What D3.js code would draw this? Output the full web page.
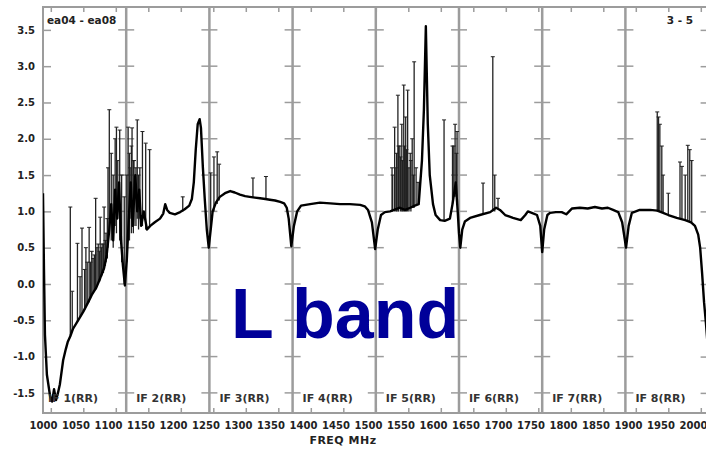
<!DOCTYPE html>
<html>
<head>
<meta charset="utf-8">
<script src="https://cdn.jsdelivr.net/npm/d3@7"></script>
<style>
  body { margin: 0; background: #fff; }
  text { font-family: "DejaVu Sans", sans-serif; }
</style>
</head>
<body>
<div id="chart"></div>
<script>
// Spectrum: frequency in MHz and amplitude
var freq = [
  1000, 1001.5, 1003, 1006, 1011, 1014, 1017, 1020, 1023, 1026, 1031, 1035, 1038, 1042, 1046, 1054,
  1062, 1069, 1075, 1082, 1088, 1094, 1098, 1102, 1105, 1108, 1111, 1114, 1117, 1120, 1123, 1126,
  1129, 1132, 1135, 1138, 1142, 1145, 1148, 1151, 1155, 1160, 1165, 1172, 1180, 1185, 1188, 1191,
  1195, 1203, 1211, 1218, 1225, 1229, 1232, 1235, 1238, 1241, 1243, 1246, 1249, 1252, 1255, 1258,
  1261, 1266, 1272, 1280, 1288, 1295, 1303, 1311, 1318, 1326, 1334, 1342, 1349, 1357, 1365, 1371,
  1375, 1378, 1382, 1386, 1391, 1397, 1411, 1426, 1442, 1457, 1472, 1488, 1495, 1500, 1506, 1511,
  1515, 1520, 1526, 1534, 1540, 1549, 1557, 1565, 1572, 1578, 1583, 1586, 1589, 1592, 1595, 1600,
  1604, 1611, 1618, 1626, 1630, 1635, 1638, 1640, 1642, 1645, 1649, 1657, 1672, 1688, 1697, 1703,
  1711, 1723, 1735, 1742, 1746, 1752, 1760, 1765, 1768, 1771, 1776, 1780, 1789, 1798, 1805, 1814,
  1826, 1838, 1849, 1860, 1869, 1877, 1885, 1891, 1897, 1901, 1906, 1918, 1934, 1945, 1954, 1962,
  1975, 1988, 1997, 2003, 2008, 2011, 2014, 2017, 2020, 2023
];
var amp = [
  1.25, 0.2, -0.7, -1.25, -1.55, -1.62, -1.45, -1.6, -1.5, -1.38, -1.05, -0.9, -0.8, -0.72, -0.62, -0.5,
  -0.38, -0.26, -0.15, -0.05, 0.08, 0.22, 0.4, 0.75, 1.1, 0.6, 1.3, 0.9, 1.4, 0.6, 0.25, -0.02,
  0.35, 0.9, 1.4, 0.8, 1.5, 1.0, 1.3, 0.8, 1.0, 0.75, 0.8, 0.85, 0.9, 0.97, 1.1, 1.02,
  0.98, 0.96, 0.99, 1.03, 1.08, 1.17, 1.4, 1.85, 2.2, 2.27, 2.15, 1.6, 1.15, 0.75, 0.5, 0.75,
  1.0, 1.12, 1.2, 1.25, 1.28, 1.26, 1.23, 1.21, 1.2, 1.19, 1.18, 1.17, 1.16, 1.15, 1.13, 1.11,
  1.05, 0.9, 0.52, 0.8, 1.0, 1.08, 1.1, 1.12, 1.11, 1.1, 1.1, 1.09, 1.07, 1.02, 0.85, 0.48,
  0.75, 0.95, 0.99, 1.0, 1.02, 1.05, 1.02, 1.05, 1.08, 1.1, 1.7, 2.4, 3.55, 2.2, 1.5, 1.1,
  0.95, 0.88, 0.87, 0.9, 1.1, 1.4, 1.0, 0.7, 0.5, 0.75, 0.86, 0.91, 0.95, 0.99, 1.05, 1.02,
  0.95, 0.91, 0.88, 0.95, 1.0, 0.98, 0.95, 0.8, 0.44, 0.75, 0.95, 0.98, 0.99, 0.99, 0.96, 1.04,
  1.05, 1.04, 1.06, 1.04, 1.05, 1.02, 0.99, 0.85, 0.5, 0.8, 0.98, 1.02, 1.02, 1.01, 0.98, 0.95,
  0.91, 0.88, 0.85, 0.8, 0.68, 0.5, 0.15, -0.25, -0.55, -0.9
];

// RFI spikes: frequency, bottom and top amplitude
var spikeFreq = [
  1042, 1045, 1053, 1060, 1066, 1071, 1075, 1081, 1085, 1088, 1091, 1094, 1097, 1100, 1102, 1105,
  1108, 1111, 1113, 1115, 1118, 1121, 1125, 1131, 1134, 1137, 1140, 1145, 1149, 1153, 1158, 1164,
  1215, 1258, 1263, 1268, 1271, 1323, 1343,
  1538, 1541, 1543, 1546, 1549, 1552, 1555, 1558, 1561, 1565, 1568, 1571, 1574, 1577, 1617, 1630, 1634, 1637,
  1677, 1692, 1695, 1700,
  1945, 1947, 1949, 1952, 1954, 1962, 1980, 1983, 1988, 1992, 1995, 1998,
  1057, 1064, 1068, 1073, 1077, 1079, 1083, 1087, 1090, 1093, 1096, 1099,
  1129, 1133, 1136, 1139, 1143, 1147,
  1537, 1544, 1547, 1550, 1553, 1556, 1559, 1563, 1566, 1570, 1632, 1636
];
var spikeLow = [
  -0.72, -0.65, -0.52, -0.4, -0.3, -0.25, -0.15, -0.08, 0.0, 0.05, 0.12, 0.2, 0.3, 0.5, 0.7, 0.6,
  0.5, 0.8, 0.7, 0.9, 0.6, 0.3, 0.0, 0.6, 0.9, 0.8, 0.8, 0.9, 0.9, 0.8, 0.75, 0.8,
  1.0, 0.75, 1.0, 1.1, 1.15, 1.19, 1.17,
  1.0, 1.0, 1.0, 1.0, 1.05, 1.0, 1.0, 1.0, 1.0, 1.05, 1.05, 1.05, 1.1, 1.1, 0.88, 1.1, 1.2, 1.2,
  0.96, 1.0, 1.0, 1.04,
  1.0, 1.0, 1.0, 0.98, 0.98, 0.95, 0.9, 0.9, 0.88, 0.87, 0.86, 0.85,
  -0.45, -0.35, -0.28, -0.2, -0.12, -0.1, -0.03, 0.03, 0.1, 0.15, 0.25, 0.35,
  0.3, 0.6, 0.7, 0.7, 0.8, 0.75,
  1.0, 1.0, 1.0, 1.0, 1.0, 1.0, 1.0, 1.0, 1.0, 1.05, 1.2, 1.25
];
var spikeHigh = [
  1.06, -0.1, 0.56, 0.77, 0.5, 0.78, 0.45, 1.18, 0.55, 0.92, 0.55, 1.06, 0.7, 1.6, 2.4, 1.8,
  1.5, 2.0, 2.16, 1.7, 2.12, 1.5, 1.2, 2.16, 1.6, 2.15, 1.7, 2.26, 1.6, 2.1, 1.94, 1.85,
  1.2, 1.53, 1.75, 1.82, 1.65, 1.46, 1.48,
  1.5, 2.16, 1.6, 2.6, 1.9, 2.2, 2.74, 2.3, 2.67, 1.8, 2.0, 3.06, 1.6, 1.4, 2.26, 1.9, 2.2, 2.1,
  1.39, 3.13, 1.5, 1.18,
  2.37, 2.3, 2.2, 1.9, 1.5, 1.25, 1.68, 1.62, 1.5, 1.91, 1.85, 1.7,
  0.1, 0.2, 0.3, 0.3, 0.35, 0.4, 0.5, 0.45, 0.5, 0.55, 0.6, 0.9,
  1.5, 1.8, 1.9, 1.7, 1.6, 1.5,
  1.6, 1.8, 1.9, 1.75, 1.7, 1.9, 1.85, 1.6, 1.7, 1.5, 1.9, 1.8
];

// IF bands and tick labels
var ifEdges = [1000, 1128, 1256, 1384, 1512, 1640, 1768, 1896, 2024];
var ifLabels = ["IF 1(RR)", "IF 2(RR)", "IF 3(RR)", "IF 4(RR)", "IF 5(RR)", "IF 6(RR)", "IF 7(RR)", "IF 8(RR)"];
var xLabels = [1000, 1050, 1100, 1150, 1200, 1250, 1300, 1350, 1400, 1450, 1500,
               1550, 1600, 1650, 1700, 1750, 1800, 1850, 1900, 1950, 2000];
var xMinor = [1012, 1062, 1112, 1162, 1212, 1262, 1312, 1362, 1412, 1462, 1512,
              1562, 1612, 1662, 1712, 1762, 1812, 1862, 1912, 1962, 2012];
var yTicks = [-1.5, -1.0, -0.5, 0.0, 0.5, 1.0, 1.5, 2.0, 2.5, 3.0, 3.5];

var W = 706, H = 449;
var plotTop = 7, plotBottom = 413;

var svg = d3.select("#chart")
  .append("svg")
  .attr("width", W)
  .attr("height", H);

var xScale = d3.scaleLinear().domain([1000, 2030]).range([43, 712.5]);
var yScale = d3.scaleLinear().domain([-1.777, 3.815]).range([plotBottom, plotTop]);
var plotLeft = xScale(1000), plotRight = xScale(2024);

var gray = "#9c9c9c";

// IF dividers with crosses at each y tick
var inner = ifEdges.slice(1, -1);
svg.selectAll(".divider")
  .data(inner)
  .enter()
  .append("line")
  .attr("x1", function(d) { return xScale(d); })
  .attr("x2", function(d) { return xScale(d); })
  .attr("y1", plotTop)
  .attr("y2", plotBottom)
  .style("stroke", gray)
  .style("stroke-width", 2.5);

inner.forEach(function(e) {
  svg.selectAll(null)
    .data(yTicks)
    .enter()
    .append("line")
    .attr("x1", xScale(e) - 8)
    .attr("x2", xScale(e) + 8)
    .attr("y1", function(d) { return yScale(d); })
    .attr("y2", function(d) { return yScale(d); })
    .style("stroke", gray)
    .style("stroke-width", 1.5);
});

// Axes
var yAxis = d3.axisLeft(yScale).tickValues(yTicks).tickSize(-8).tickPadding(8)
  .tickFormat(function(d) { return d.toFixed(1); });
var yg = svg.append("g").attr("transform", "translate(" + plotLeft + ",0)").call(yAxis);

var yAxisR = d3.axisRight(yScale).tickValues(yTicks).tickSize(-8).tickFormat("");
var yrg = svg.append("g").attr("transform", "translate(" + plotRight + ",0)").call(yAxisR);

var xAxis = d3.axisBottom(xScale).tickValues(xLabels).tickSize(0).tickPadding(9)
  .tickFormat(function(d) { return d; });
var xg = svg.append("g").attr("transform", "translate(0," + plotBottom + ")").call(xAxis);

var xMinorB = d3.axisBottom(xScale).tickValues(xMinor).tickSize(-5).tickFormat("");
var xmb = svg.append("g").attr("transform", "translate(0," + plotBottom + ")").call(xMinorB);
var xMinorT = d3.axisTop(xScale).tickValues(xMinor).tickSize(-5).tickFormat("");
var xmt = svg.append("g").attr("transform", "translate(0," + plotTop + ")").call(xMinorT);

[yg, yrg, xg, xmb, xmt].forEach(function(g) {
  g.select(".domain").remove();
  g.selectAll(".tick line").style("stroke", gray).style("stroke-width", 1.5);
});
yg.selectAll("text").style("font-size", "10px").style("font-weight", "bold").style("fill", "#222");
xg.selectAll("text").style("font-size", "10px").style("font-weight", "bold").style("fill", "#222");

// Frame
svg.append("rect")
  .attr("x", plotLeft)
  .attr("y", plotTop)
  .attr("width", plotRight - plotLeft)
  .attr("height", plotBottom - plotTop)
  .style("fill", "none")
  .style("stroke", gray)
  .style("stroke-width", 2);

// Data, clipped to the frame
svg.append("clipPath").attr("id", "clip")
  .append("rect")
  .attr("x", plotLeft).attr("y", plotTop)
  .attr("width", plotRight - plotLeft).attr("height", plotBottom - plotTop);

var dataG = svg.append("g").attr("clip-path", "url(#clip)");

var spikeIdx = d3.range(spikeFreq.length);
dataG.selectAll(".spike")
  .data(spikeIdx)
  .enter()
  .append("line")
  .attr("class", "spike")
  .attr("x1", function(i) { return xScale(spikeFreq[i]); })
  .attr("x2", function(i) { return xScale(spikeFreq[i]); })
  .attr("y1", function(i) { return yScale(spikeLow[i]); })
  .attr("y2", function(i) { return yScale(spikeHigh[i]); })
  .style("stroke", "#222")
  .style("stroke-width", 1.3);

dataG.selectAll(".cap")
  .data(spikeIdx)
  .enter()
  .append("line")
  .attr("class", "cap")
  .attr("x1", function(i) { return xScale(spikeFreq[i]) - 2; })
  .attr("x2", function(i) { return xScale(spikeFreq[i]) + 2; })
  .attr("y1", function(i) { return yScale(spikeHigh[i]); })
  .attr("y2", function(i) { return yScale(spikeHigh[i]); })
  .style("stroke", "#222")
  .style("stroke-width", 1);

var line = d3.line()
  .x(function(i) { return xScale(freq[i]); })
  .y(function(i) { return yScale(amp[i]); });

dataG.append("path")
  .attr("d", line(d3.range(freq.length)))
  .style("fill", "none")
  .style("stroke", "#000")
  .style("stroke-width", 2.4)
  .style("stroke-linejoin", "round");

// IF labels
svg.selectAll(".iflabel")
  .data(ifLabels)
  .enter()
  .append("text")
  .attr("x", function(d, i) { return xScale(ifEdges[i]) + (i === 0 ? 5 : 10); })
  .attr("y", 402)
  .style("font-size", "11px")
  .style("font-weight", "bold")
  .style("fill", "#333")
  .text(function(d) { return d; });

// Corner texts and axis title
svg.append("text").attr("x", 47).attr("y", 24)
  .style("font-size", "10.5px").style("font-weight", "bold").style("fill", "#222")
  .text("ea04 - ea08");
svg.append("text").attr("x", 693).attr("y", 24).attr("text-anchor", "end")
  .style("font-size", "10.5px").style("font-weight", "bold").style("fill", "#222")
  .text("3 - 5");
svg.append("text").attr("x", 343).attr("y", 444).attr("text-anchor", "middle")
  .style("font-size", "11px").style("font-weight", "bold").style("fill", "#222")
  .style("letter-spacing", "0.5px")
  .text("FREQ MHz");

// Big label
svg.append("text").attr("x", 231).attr("y", 338)
  .style("font-family", "'Liberation Sans', Arial, sans-serif")
  .style("font-size", "70px").style("font-weight", "bold").style("fill", "#000099")
  .text("L band");
</script>
</body>
</html>
